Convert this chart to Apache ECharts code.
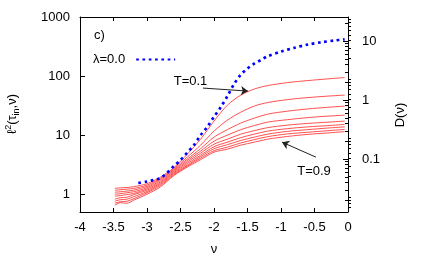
<!DOCTYPE html>
<html><head><meta charset="utf-8">
<script src="https://cdn.jsdelivr.net/npm/echarts@6/dist/echarts.min.js"></script>
<style>html,body{margin:0;padding:0;background:#fff}#c{width:436px;height:259px}</style>
</head><body><div id="c"></div>
<script>
// ---- data ----
const nu = [-3.48,-3.4,-3.3,-3.2,-3.0,-2.8,-2.6,-2.4,-2.2,-2.0,-1.8,-1.6,-1.4,-1.2,-0.9,-0.6,-0.3,-0.05];
const T01 = [1.26,1.28,1.30,1.34,1.51,1.94,2.81,4.76,8.55,17.3,32.2,47.6,60.2,69.0,77.6,83.9,89.7,94.4];
const T02 = [1.17,1.19,1.22,1.25,1.43,1.85,2.71,4.24,6.77,11.7,17.9,24.5,31.0,35.6,40.0,43.2,45.8,47.6];
const T03 = [1.08,1.10,1.13,1.17,1.36,1.77,2.60,3.92,5.90,9.25,12.4,16.0,19.4,22.7,25.5,27.8,29.6,31.0];
const T04 = [1.00,1.02,1.06,1.10,1.29,1.69,2.50,3.70,5.36,7.91,10.0,12.4,14.5,16.6,18.3,19.8,21.0,21.8];
const T05 = [0.925,0.95,0.985,1.03,1.23,1.61,2.41,3.49,4.95,7.03,8.55,10.4,11.9,13.4,14.8,15.8,16.6,17.3];
const T06 = [0.823,0.872,0.89,0.98,1.17,1.54,2.31,3.29,4.58,6.38,7.60,9.07,10.4,11.7,12.9,13.8,14.5,15.2];
const T07 = [0.761,0.807,0.823,0.907,1.11,1.47,2.23,3.10,4.32,5.90,6.90,8.13,9.25,10.4,11.6,12.4,13.2,13.8];
const T08 = [0.704,0.746,0.761,0.839,1.06,1.40,2.14,2.98,4.07,5.46,6.26,7.38,8.39,9.43,10.5,11.2,11.9,12.5];
const T09 = [0.651,0.718,0.704,0.791,1.00,1.33,2.06,2.87,3.84,5.15,5.79,6.77,7.60,8.55,9.51,10.3,10.9,11.5];
const redNames = ['T=0.1','T=0.2','T=0.3','T=0.4','T=0.5','T=0.6','T=0.7','T=0.8','T=0.9'];
const redSeries = [T01,T02,T03,T04,T05,T06,T07,T08,T09];

const lambdaNu = [-3.13,-3.0,-2.9,-2.8,-2.7,-2.6,-2.5,-2.4,-2.3,-2.2,-2.1,-2.0,-1.9,-1.8,-1.7,-1.6,-1.5,-1.4,-1.3,-1.2,-1.0,-0.8,-0.6,-0.4,-0.2,-0.05];
const lambda00 = [1.55,1.64,1.74,1.88,2.30,2.98,3.77,5.05,6.77,10.0,13.8,20.4,29.6,45.8,73.2,106,134,163,187,216,260,301,342,374,400,419];

const leftTicks = [1,10,100,1000];
const leftMinor = [0.6,0.7,0.8,0.9,2,3,4,5,6,7,8,9,20,30,40,50,60,70,80,90,200,300,400,500,600,700,800,900];
const rightTicks = [0.1,1,10];
const rightMinor = [0.02,0.03,0.04,0.05,0.06,0.07,0.08,0.09,0.2,0.3,0.4,0.5,0.6,0.7,0.8,0.9,2,3,4,5,6,7,8,9,20];

// ---- chart ----
const FONT = 'Liberation Sans, Arial, sans-serif';
const chart = echarts.init(document.getElementById('c'), null, {renderer:'canvas'});
const fmt = v => String(+(+v).toPrecision(3));
const axLine = {show:true, onZero:false, lineStyle:{color:'#000', width:1}};
function yAx(pos, min, max, labels, ticks, len, showLine){
  return {
    type:'log', logBase:10, min:min, max:max, position:pos,
    axisLine: showLine ? axLine : {show:false},
    axisTick:{show:true, inside:true, length:len, customValues:ticks, lineStyle:{color:'#000', width:1}},
    axisLabel: labels ? {show:true, customValues:labels, formatter:fmt, color:'#000', fontSize:13, fontFamily:FONT, margin: pos==='left'?10:14} : {show:false},
    splitLine:{show:false}, minorTick:{show:false}
  };
}
const series = redSeries.map((arr,i)=>({
  type:'line', name:redNames[i], xAxisIndex:0, yAxisIndex:0,
  data: nu.map((x,j)=>[x, arr[j]]),
  showSymbol:false, symbol:'none', smooth:0.3,
  lineStyle:{color:'#ff3030', width:0.85},
  z:2, silent:true
}));
series[0].markLine = {
  silent:true, symbol:['none','arrow'], symbolSize:[7,7], label:{show:false},
  lineStyle:{color:'#222', width:1, type:'solid'},
  data:[
    [{coord:[-2.164, 62.6]}, {coord:[-1.493, 55.7]}],
    [{coord:[-0.478, 4.24]}, {coord:[-0.985, 7.61]}]
  ]
};
series.push({
  type:'line', name:'λ=0.0', xAxisIndex:0, yAxisIndex:0,
  data: lambdaNu.map((x,j)=>[x, lambda00[j]]),
  showSymbol:false, symbol:'none', legendIcon:'none', smooth:0.3,
  lineStyle:{color:'#0000ff', width:2.7, type:[2.7,3.6], cap:'butt'},
  z:3, silent:true
});

const option = {
  animation:false,
  backgroundColor:'#fff',
  textStyle:{fontFamily:FONT},
  grid:{left:80, right:88, top:17, bottom:47, containLabel:false},
  legend:{
    show:true, data:['λ=0.0'], left:88, top:48, align:'right', orient:'vertical',
    itemWidth:39, itemHeight:14,
    itemStyle:{opacity:0, borderWidth:0},
    textStyle:{color:'#000', fontSize:13, fontFamily:FONT, padding:[0,6,0,0]},
    selectedMode:false
  },
  xAxis:[
    {type:'value', min:-4, max:0, interval:0.5, position:'bottom',
     axisLine:axLine, axisTick:{inside:true, length:4, lineStyle:{color:'#000'}},
     axisLabel:{color:'#000', fontSize:13, fontFamily:FONT, margin:9, formatter:fmt},
     splitLine:{show:false}},
    {type:'value', min:-4, max:0, interval:0.5, position:'top',
     axisLine:axLine, axisTick:{inside:true, length:4, lineStyle:{color:'#000'}},
     axisLabel:{show:false}, splitLine:{show:false}}
  ],
  yAxis:[
    yAx('left', 0.5, 1000, leftTicks, leftTicks, 5, true),
    yAx('left', 0.5, 1000, null, leftMinor, 3, false),
    yAx('right', 0.01265, 25.5, rightTicks, rightTicks, 5, true),
    yAx('right', 0.01265, 25.5, null, rightMinor, 3, false)
  ],
  series: series,
  graphic:[
    {type:'text', x:94, y:35.5, silent:true, style:{text:'c)', fill:'#000', font:'13px '+FONT, align:'left', verticalAlign:'middle', textAlign:'left', textVerticalAlign:'middle'}},
    {type:'text', x:190.5, y:81, silent:true, style:{text:'T=0.1', fill:'#000', font:'13px '+FONT, align:'center', verticalAlign:'middle', textAlign:'center', textVerticalAlign:'middle'}},
    {type:'text', x:314, y:171, silent:true, style:{text:'T=0.9', fill:'#000', font:'13px '+FONT, align:'center', verticalAlign:'middle', textAlign:'center', textVerticalAlign:'middle'}},
    {type:'text', x:214, y:249, silent:true, style:{text:'ν', fill:'#000', font:'13px '+FONT, align:'center', verticalAlign:'middle', textAlign:'center', textVerticalAlign:'middle'}},
    {type:'text', x:400, y:115, rotation:Math.PI/2, silent:true, style:{text:'D(ν)', fill:'#000', font:'13px '+FONT, align:'center', verticalAlign:'middle', textAlign:'center', textVerticalAlign:'middle'}},
    {type:'text', x:12, y:114, rotation:Math.PI/2, silent:true, style:{
      text:'{a|ℓ}{p|2}{a|(τ}{b|in}{a|,ν)}', fill:'#000', align:'center', verticalAlign:'middle', textAlign:'center', textVerticalAlign:'middle',
      rich:{
        a:{fontSize:13, fontFamily:FONT, fill:'#000', lineHeight:20, verticalAlign:'middle'},
        p:{fontSize:9, fontFamily:FONT, fill:'#000', lineHeight:20, verticalAlign:'top', padding:[2,0,0,0]},
        b:{fontSize:9, fontFamily:FONT, fill:'#000', lineHeight:20, verticalAlign:'bottom', padding:[0,0,1,0]}
      }}}
  ]
};
chart.setOption(option);
</script></body></html>
